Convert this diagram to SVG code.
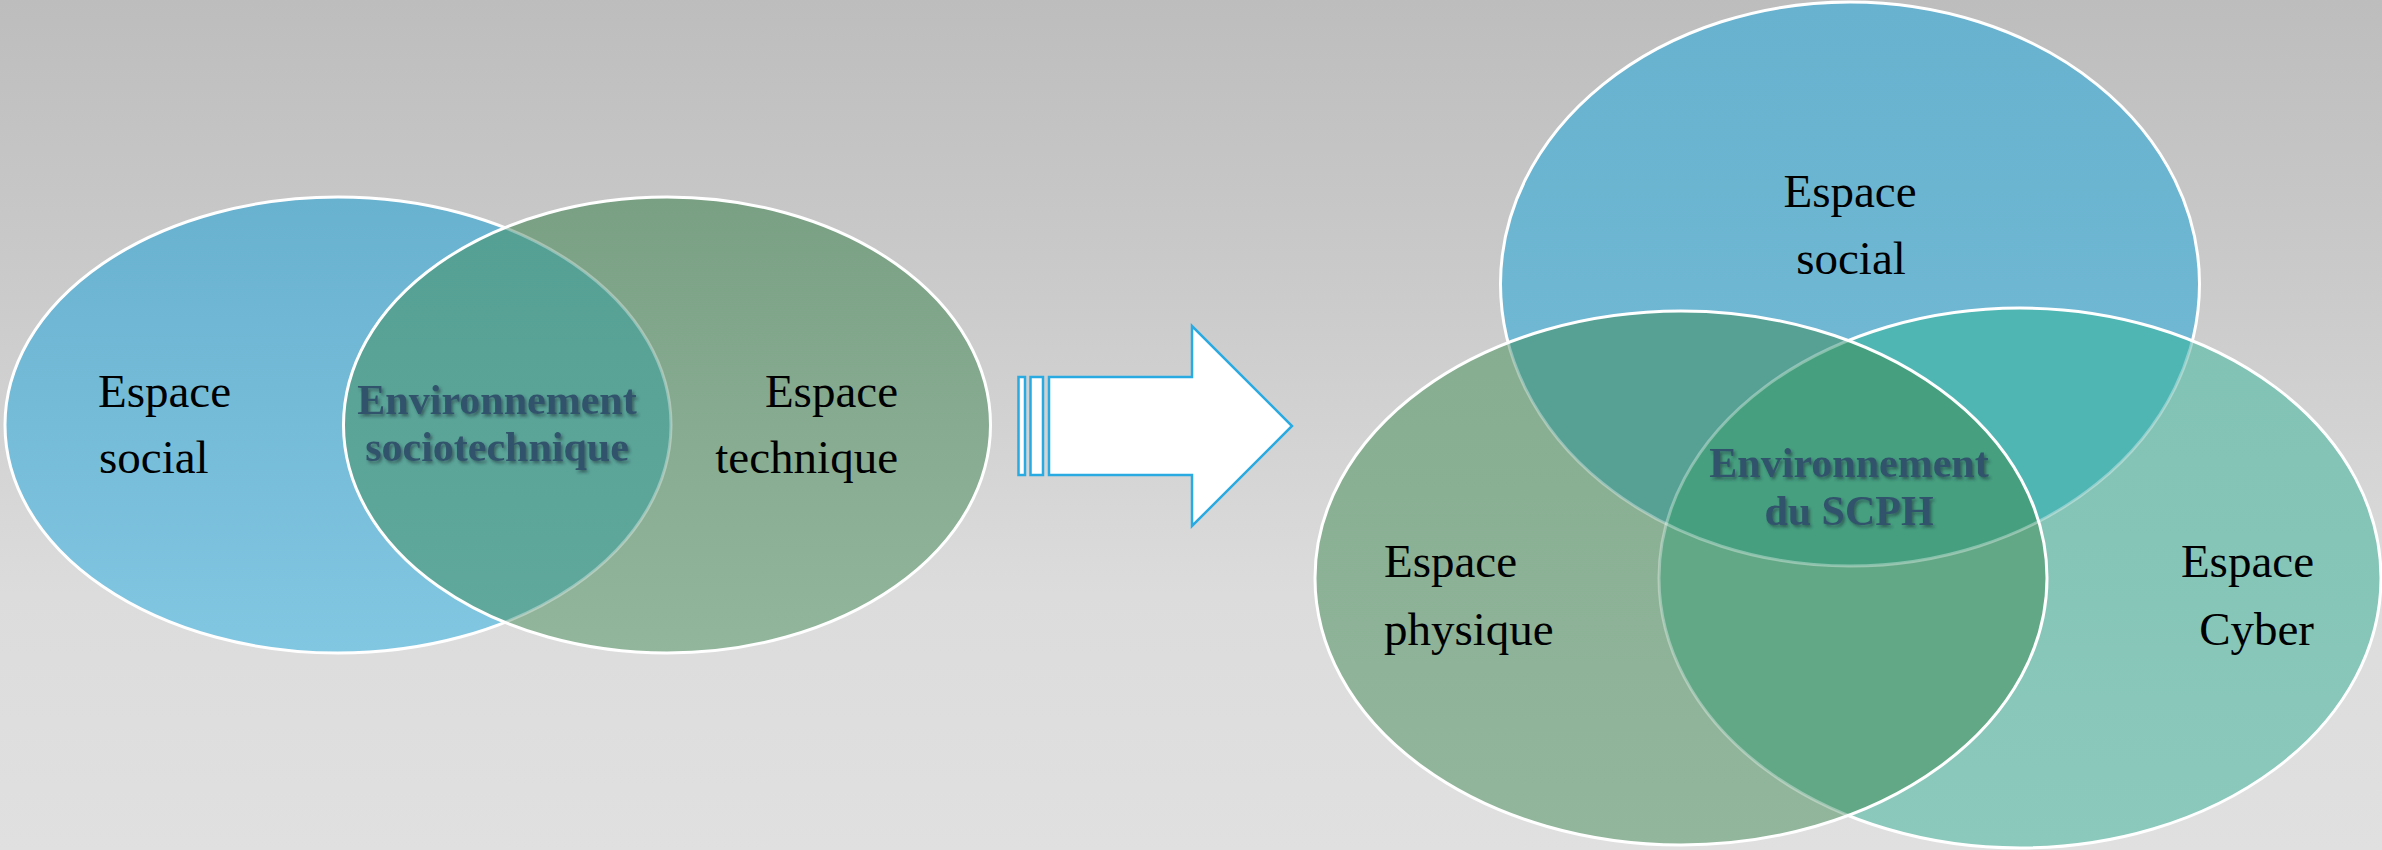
<svg xmlns="http://www.w3.org/2000/svg" width="2382" height="850" viewBox="0 0 2382 850">
  <defs>
    <style>
      .lbl { font-family: "Liberation Serif", "Times New Roman", serif; font-size: 47px; fill: #000; }
      .core { font-family: "Liberation Serif", "Times New Roman", serif; font-size: 42px; font-weight: bold; fill: #32536c; text-anchor: middle; filter: url(#shadow); }
      .edge { fill: none; stroke: #ffffff; stroke-width: 3; }
      .faint { fill: none; stroke: #ffffff; stroke-opacity: 0.35; stroke-width: 3; }
      .arrow { fill: #ffffff; stroke: #29abe2; stroke-width: 2.5; stroke-linejoin: miter; }
    </style>
    <linearGradient id="bg" x1="0" y1="0" x2="0" y2="1">
      <stop offset="0" stop-color="#bdbdbd"/>
      <stop offset="0.35" stop-color="#cbcbcb"/>
      <stop offset="0.7" stop-color="#dddcdd"/>
      <stop offset="1" stop-color="#e1e0e1"/>
    </linearGradient>
    <linearGradient id="gBlue" x1="0" y1="0" x2="0" y2="1">
      <stop offset="0" stop-color="#68b1cf"/>
      <stop offset="1" stop-color="#82c7e2"/>
    </linearGradient>
    <linearGradient id="gGreen" x1="0" y1="0" x2="0" y2="1">
      <stop offset="0" stop-color="#7aa084"/>
      <stop offset="1" stop-color="#92b69c"/>
    </linearGradient>
    <linearGradient id="gMix" x1="0" y1="0" x2="0" y2="1">
      <stop offset="0" stop-color="#549f93"/>
      <stop offset="1" stop-color="#60a99c"/>
    </linearGradient>
    <linearGradient id="gTop" x1="0" y1="0" x2="0" y2="1">
      <stop offset="0" stop-color="#68b2cf"/>
      <stop offset="1" stop-color="#74bbd6"/>
    </linearGradient>
    <linearGradient id="gPhys" x1="0" y1="0" x2="0" y2="1">
      <stop offset="0" stop-color="#86ad90"/>
      <stop offset="1" stop-color="#92b69c"/>
    </linearGradient>
    <linearGradient id="gCyber" x1="0" y1="0" x2="0" y2="1">
      <stop offset="0" stop-color="#80c2b4"/>
      <stop offset="1" stop-color="#8bc9bc"/>
    </linearGradient>
    <filter id="shadow" x="-10%" y="-30%" width="120%" height="160%">
      <feDropShadow dx="2" dy="2.5" stdDeviation="1.5" flood-color="#1c2f3a" flood-opacity="0.55"/>
    </filter>
    <clipPath id="cSocL"><ellipse cx="338" cy="425" rx="333" ry="228"/></clipPath>
    <clipPath id="cTechL"><ellipse cx="667" cy="425" rx="323.5" ry="228"/></clipPath>
    <clipPath id="cSocR"><ellipse cx="1850" cy="284" rx="349.5" ry="282"/></clipPath>
    <clipPath id="cCyb"><ellipse cx="2020" cy="578" rx="361" ry="270"/></clipPath>
    <clipPath id="cPhy"><ellipse cx="1681" cy="578" rx="366" ry="267"/></clipPath>
  </defs>

  <rect x="0" y="0" width="2382" height="850" fill="url(#bg)"/>

  <!-- sociotechnical pair -->
  <g id="espace-social-gauche">
    <ellipse cx="338" cy="425" rx="333" ry="228" fill="url(#gBlue)"/>
    <ellipse class="edge" cx="338" cy="425" rx="333" ry="228"/>
    <text class="lbl" x="98" y="407">Espace</text>
    <text class="lbl" x="99" y="473">social</text>
  </g>
  <g id="espace-technique">
    <ellipse cx="667" cy="425" rx="323.5" ry="228" fill="url(#gGreen)"/>
    <ellipse cx="667" cy="425" rx="323.5" ry="228" fill="url(#gMix)" clip-path="url(#cSocL)"/>
    <ellipse class="faint" cx="338" cy="425" rx="333" ry="228" clip-path="url(#cTechL)"/>
    <ellipse class="edge" cx="667" cy="425" rx="323.5" ry="228"/>
    <text class="lbl" x="898" y="407" text-anchor="end">Espace</text>
    <text class="lbl" x="898" y="473" text-anchor="end">technique</text>
  </g>
  <g id="environnement-sociotechnique">
    <text class="core" x="497" y="414">Environnement</text>
    <text class="core" x="497" y="461">sociotechnique</text>
  </g>

  <!-- transition arrow -->
  <g id="connectors">
    <rect class="arrow" x="1018.5" y="377" width="6.5" height="98"/>
    <rect class="arrow" x="1030.5" y="377" width="12.5" height="98"/>
    <path class="arrow" d="M1049,377 H1192 V326 L1292,426 L1192,526 V475 H1049 Z"/>
  </g>

  <!-- cyber-physical-social triple -->
  <g id="espace-social-droite">
    <ellipse cx="1850" cy="284" rx="349.5" ry="282" fill="url(#gTop)"/>
    <ellipse class="edge" cx="1850" cy="284" rx="349.5" ry="282"/>
    <text class="lbl" x="1850" y="207" text-anchor="middle">Espace</text>
    <text class="lbl" x="1851" y="274" text-anchor="middle">social</text>
  </g>
  <g id="espace-cyber">
    <ellipse cx="2020" cy="578" rx="361" ry="270" fill="url(#gCyber)"/>
    <ellipse cx="2020" cy="578" rx="361" ry="270" fill="#4fb6b4" clip-path="url(#cSocR)"/>
    <ellipse class="faint" cx="1850" cy="284" rx="349.5" ry="282" clip-path="url(#cCyb)"/>
    <ellipse class="edge" cx="2020" cy="578" rx="361" ry="270"/>
    <text class="lbl" x="2314" y="577" text-anchor="end">Espace</text>
    <text class="lbl" x="2314" y="645" text-anchor="end">Cyber</text>
  </g>
  <g id="espace-physique">
    <ellipse cx="1681" cy="578" rx="366" ry="267" fill="url(#gPhys)"/>
    <ellipse cx="1681" cy="578" rx="366" ry="267" fill="#57a194" clip-path="url(#cSocR)"/>
    <ellipse cx="1681" cy="578" rx="366" ry="267" fill="#62a886" clip-path="url(#cCyb)"/>
    <g clip-path="url(#cSocR)">
      <ellipse cx="1681" cy="578" rx="366" ry="267" fill="#46a080" clip-path="url(#cCyb)"/>
    </g>
    <ellipse class="faint" cx="1850" cy="284" rx="349.5" ry="282" clip-path="url(#cPhy)"/>
    <ellipse class="faint" cx="2020" cy="578" rx="361" ry="270" clip-path="url(#cPhy)"/>
    <ellipse class="edge" cx="1681" cy="578" rx="366" ry="267"/>
    <text class="lbl" x="1384" y="577">Espace</text>
    <text class="lbl" x="1384" y="645">physique</text>
  </g>
  <g id="environnement-scph">
    <text class="core" x="1849" y="477">Environnement</text>
    <text class="core" x="1849" y="525">du SCPH</text>
  </g>
</svg>
